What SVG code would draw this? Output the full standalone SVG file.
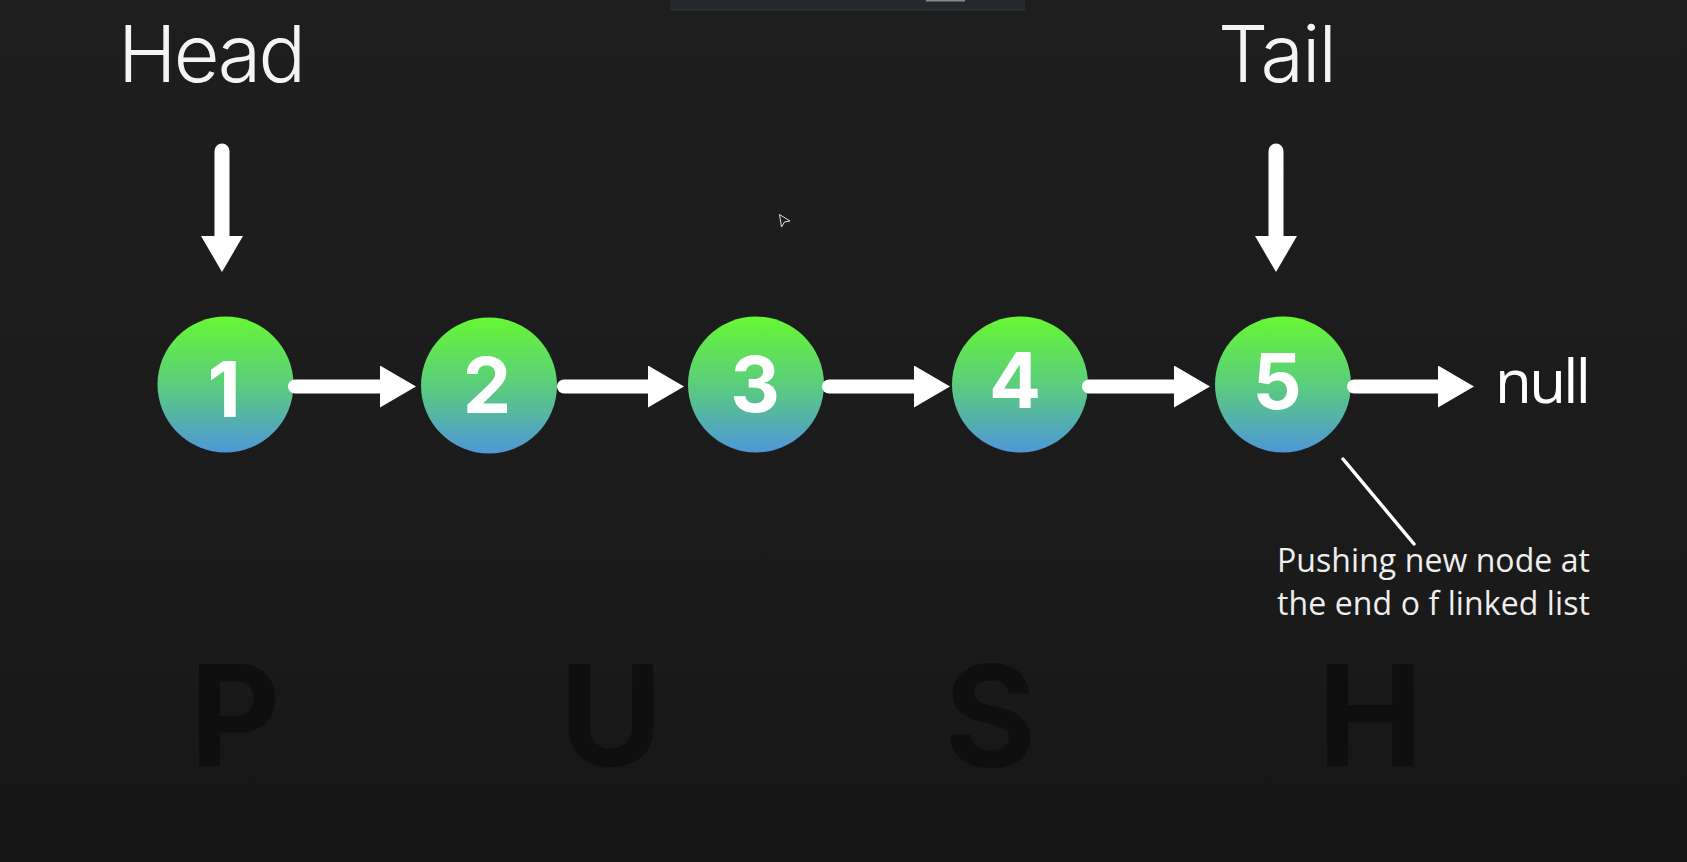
<svg xmlns="http://www.w3.org/2000/svg" width="1687" height="862" viewBox="0 0 1687 862">
  <defs>
    <linearGradient id="bg" x1="0" y1="0" x2="0" y2="1">
      <stop offset="0" stop-color="#1e1e1e"/>
      <stop offset="0.6" stop-color="#1b1b1b"/>
      <stop offset="1" stop-color="#161616"/>
    </linearGradient>
    <linearGradient id="nodeFill" x1="0" y1="0" x2="0" y2="1">
      <stop offset="0" stop-color="#66f734"/>
      <stop offset="0.5" stop-color="#5bcd7c"/>
      <stop offset="1" stop-color="#4e96d8"/>
    </linearGradient>
    <marker id="head" viewBox="0 0 36 42" refX="0" refY="21" markerWidth="36" markerHeight="42" markerUnits="userSpaceOnUse" orient="auto">
      <path d="M0,0 L36,21 L0,42 Z" fill="#ffffff"/>
    </marker>
  </defs>
  <style>
    .node circle { fill: url(#nodeFill); }
    .digit { font-family: Inter, "Liberation Sans", sans-serif; font-weight: 700; font-size: 77px; fill: #ffffff; text-anchor: middle; }
    .label { font-family: Inter, "Liberation Sans", sans-serif; font-weight: 300; font-size: 79px; fill: #f4f4f4; }
    .note { font-family: "Open Sans", "Liberation Sans", sans-serif; font-size: 32px; fill: #eeeeee; }
    .big { font-family: Inter, "Liberation Sans", sans-serif; font-weight: 700; font-size: 140px; fill: #0f0f0f; text-anchor: middle; }
    .link { stroke: #ffffff; stroke-width: 14; stroke-linecap: round; fill: none; }
    .ptr { stroke: #ffffff; stroke-width: 15; stroke-linecap: round; fill: none; }
  </style>
  <rect x="0" y="0" width="1687" height="862" fill="url(#bg)"/>
  <rect x="670" y="0" width="355" height="10" fill="#25282c"/>
  <rect x="670" y="9" width="355" height="1.5" fill="#2d3035"/>
  <rect x="926" y="0" width="39" height="1.5" fill="#8a8a8a"/>

  <g id="watermark">
    <text class="big" x="235" y="766">P</text>
    <text class="big" x="611" y="766">U</text>
    <text class="big" x="990" y="766">S</text>
    <text class="big" x="1370" y="766">H</text>
  </g>

  <g id="label-head"><text class="label" x="118" y="82" textLength="188">Head</text></g>
  <g id="label-tail"><text class="label" x="1218" y="82" textLength="119">Tail</text></g>

  <g id="node1" class="node"><circle cx="225.5" cy="384.5" r="68"/><text class="digit" x="224" y="417">1</text></g>
  <g id="node2" class="node"><circle cx="489" cy="385.5" r="68"/><text class="digit" x="487" y="413">2</text></g>
  <g id="node3" class="node"><circle cx="756" cy="384.5" r="68"/><text class="digit" x="755" y="411.5">3</text></g>
  <g id="node4" class="node"><circle cx="1020" cy="384.5" r="68"/><text class="digit" x="1015" y="408">4</text></g>
  <g id="node5" class="node"><circle cx="1283" cy="384.5" r="68"/><text class="digit" x="1277" y="409">5</text></g>

  <g id="null"><text x="1495" y="403" font-family="Open Sans, Liberation Sans, sans-serif" font-size="60" fill="#ffffff" textLength="96">null</text></g>

  <g id="connectors">
    <line class="ptr" x1="222" y1="151" x2="222" y2="236" marker-end="url(#head)"/>
    <line class="ptr" x1="1276" y1="151" x2="1276" y2="236" marker-end="url(#head)"/>
    <line class="link" x1="295" y1="386.5" x2="380" y2="386.5" marker-end="url(#head)"/>
    <line class="link" x1="564" y1="386.5" x2="648" y2="386.5" marker-end="url(#head)"/>
    <line class="link" x1="829" y1="386.5" x2="914" y2="386.5" marker-end="url(#head)"/>
    <line class="link" x1="1089" y1="386.5" x2="1174" y2="386.5" marker-end="url(#head)"/>
    <line class="link" x1="1354" y1="386.5" x2="1438" y2="386.5" marker-end="url(#head)"/>
    <line x1="1343" y1="459" x2="1414" y2="544" stroke="#ffffff" stroke-width="3.5" stroke-linecap="round"/>
  </g>

  <g id="note">
    <text class="note" x="1277" y="572" textLength="313">Pushing new node at</text>
    <text class="note" x="1277" y="615" textLength="313">the end o f linked list</text>
  </g>

  <path d="M779.5,214.5 L790,221 L784.5,222 L781.5,227 Z" fill="#1e1e1e" stroke="#e0e0e0" stroke-width="1"/>
</svg>
